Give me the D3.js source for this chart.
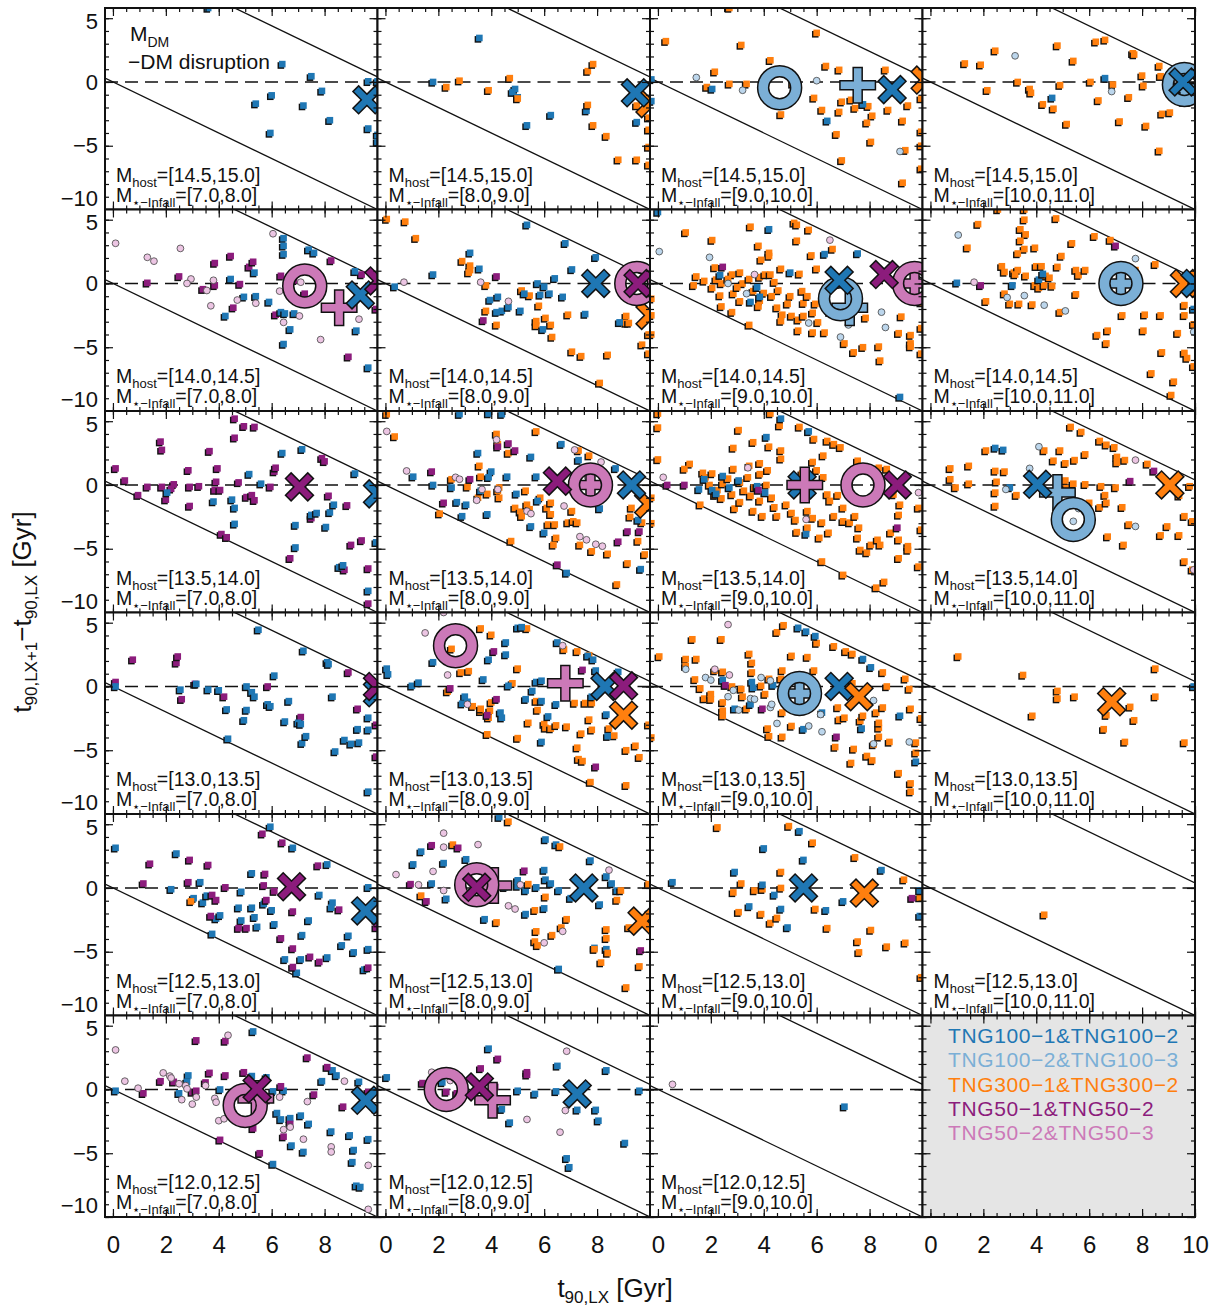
<!DOCTYPE html>
<html>
<head>
<meta charset="utf-8">
<script src="https://cdn.jsdelivr.net/npm/d3@7"></script>
<style>
  body { margin: 0; background: #fff; }
  text { font-family: "Liberation Sans", Arial, Helvetica, sans-serif; }
</style>
</head>
<body>
<svg id="chart" width="1224" height="1306"></svg>
<script>
// bins of the grid
const hostBins = ['[14.5,15.0]', '[14.0,14.5]', '[13.5,14.0]', '[13.0,13.5]', '[12.5,13.0]', '[12.0,12.5]'];
const starBins = ['[7.0,8.0]', '[8.0,9.0]', '[9.0,10.0]', '[10.0,11.0]'];
const seriesNames = ['TNG100\u22121&TNG100\u22122', 'TNG100\u22122&TNG100\u22123', 'TNG300\u22121&TNG300\u22122', 'TNG50\u22121&TNG50\u22122', 'TNG50\u22122&TNG50\u22123'];
const xTickVals = [0, 2, 4, 6, 8, 10];
const yTickVals = [-10, -5, 0, 5];

// points: [t90,LX , delta t90 , series]   series 0..4 as in seriesNames
const pts_r1c1 = [[3.6,5.8,0],[6.4,1.4,0],[7.5,0.45,0],[7.9,-0.7,0],[6.0,-1.05,0],[5.4,-1.7,0],[7.2,-1.85,0],[8.2,-3.0,0],[5.95,-4.0,0],[9.65,0.05,0],[9.65,-3.65,0],[10.0,-4.15,0],[10.0,-4.7,0],[10.0,0.05,0]];
const pts_r1c2 = [[1.8,0,0],[3.55,3.45,0],[4.9,-0.55,0],[4.8,-0.8,0],[5.0,-1.2,0],[5.35,-3.4,0],[6.25,-2.6,0],[7.6,-2.25,0],[9.5,-3.15,0],
  [2.3,-0.4,2],[2.8,0.1,2],[3.9,-0.65,2],[4.7,0.3,2],[5.0,-1.3,2],[7.65,0.85,2],[7.85,1.4,2],[7.65,-1.8,2],[7.85,-3.4,2],[8.35,-4.25,2],[8.8,-6.1,2],[9.5,-6.1,2],[9.5,-1.85,2],[9.95,-2.8,2],[9.95,-3.75,2],[9.95,-5.1,2],[9.95,-6.5,2]];
const pts_r1c3 = [[2.7,5.8,2],[0.3,3.2,2],[3.15,2.9,2],[6.0,3.85,2],[4.25,1.7,2],[2.15,0.8,2],[1.85,-0.4,2],[2.7,-0.15,2],[3.35,-0.15,2],[4.05,-0.15,2],[5.1,-0.15,2],[6.35,1.25,2],[6.85,0.95,2],[8.6,0.95,2],[5.9,-1.25,2],[6.2,-2.2,2],[6.95,-1.55,2],[7.3,-1.4,2],[6.85,-2.35,2],[7.45,-2.05,2],[7.95,-1.9,2],[8.1,-2.65,2],[7.9,-3.2,2],[8.7,-2.2,2],[9.25,-3.05,2],[9.45,-1.85,2],[6.75,-4.1,2],[8.05,-4.7,2],[6.95,-6.15,2],[9.35,-5.35,2],[9.25,-7.9,2],[4.65,-2.55,2],[9.95,-3.9,2],[9.95,-1.3,2],[9.95,-5.0,2],[9.95,-6.8,2],
  [2.05,-0.55,0],[6.4,-3.05,0],[7.75,-1.75,0],[-0.25,0.2,0],[-0.25,-1.5,0],
  [1.45,0.35,1],[3.2,-0.65,1],[6.0,0.1,1],[9.15,-5.45,1]];
const pts_r1c4 = [[1.3,1.45,2],[1.9,1.35,2],[2.45,2.45,2],[4.8,2.85,2],[5.4,1.65,2],[6.25,3.15,2],[6.6,3.3,2],[7.65,2.25,2],[7.7,2.15,2],[8.65,1.25,2],[8.0,0.5,2],[8.05,-0.3,2],[8.7,0.45,2],[3.3,0,2],[2.15,-0.65,2],[3.75,-0.55,2],[3.8,-0.85,2],[4.25,-1.75,2],[4.65,-2.1,2],[4.9,-0.25,2],[6.05,0,2],[6.9,-0.2,2],[7.5,-1.2,2],[6.35,-1.45,2],[5.15,-3.3,2],[7.15,-3.1,2],[8.15,-3.45,2],[8.75,-2.5,2],[9.05,-2.4,2],[8.65,-5.4,2],
  [6.6,0.3,0],[4.6,-1.25,0],[3.2,2.05,1],[6.85,-0.75,1]];

const pts_r2c1 = [[1.3,0.05,3],[2.5,0.55,3],[3.85,1.6,3],[4.45,2.15,3],[5.15,1.3,3],[5.3,1.7,3],[3.4,-0.45,3],[3.85,-0.15,3],[4.8,-0.05,3],[4.55,-1.9,3],[6.15,-2.45,3],[6.85,0.25,3],[7.25,-0.8,3],[8.25,1.8,3],[6.35,0.6,3],[8.9,-5.75,3],[9.4,0.7,3],[9.95,-2.0,3],
  [0.1,3.15,4],[1.3,2.05,4],[1.55,1.75,4],[2.55,2.75,4],[2.95,0.35,4],[2.8,0,4],[3.55,-0.55,4],[3.8,0.25,4],[3.7,-1.75,4],[4.7,-1.3,4],[5.4,-1.55,4],[6.05,3.9,4],[6.45,-3.05,4],[7.05,-2.55,4],[7.85,-4.4,4],[9.3,-2.8,4],[6.3,-0.6,4],[7.1,0.1,4],
  [6.45,3.55,0],[6.45,2.95,0],[6.45,2.3,0],[7.4,2.65,0],[7.6,2.4,0],[5.35,0.85,0],[4.45,0.35,0],[4.95,-1.05,0],[5.4,-1.0,0],[5.9,-1.45,0],[4.25,-2.55,0],[6.35,-2.25,0],[6.5,-2.35,0],[6.85,-2.35,0],[6.7,-3.6,0],[6.45,-4.75,0],[9.2,-3.7,0],[9.65,-6.6,0],[9.15,0.95,0]];
const pts_r2c2 = [[0.05,5.05,2],[0.75,4.85,2],[1.15,3.55,2],[2.9,1.75,2],[3.2,1.4,2],[3.2,1.05,2],[3.15,0.85,2],[3.8,-0.15,2],[5.15,-0.55,2],[5.45,-0.95,2],[5.8,-1.75,2],[3.8,-2.15,2],[4.2,-3.25,2],[5.7,-2.95,2],[5.7,-3.3,2],[6.05,-2.7,2],[6.25,-3.25,2],[6.3,-4.2,2],[6.9,-2.45,2],[7.05,-5.35,2],[7.4,-5.7,2],[8.4,-5.6,2],[8.1,-7.8,2],[9.1,-2.55,2],[9.1,-3.1,2],[9.2,-3.1,2],[9.7,-4.8,2],[9.95,-4.0,2],[9.95,-5.5,2],
  [0.35,-0.25,0],[1.8,0.7,0],[3.2,2.4,0],[3.55,1.15,0],[3.95,-1.3,0],[4.25,-1.05,0],[4.4,-2.15,0],[4.2,-2.25,0],[4.65,-1.85,0],[5.1,-2.15,0],[5.25,-0.8,0],[5.75,0,0],[5.85,-0.9,0],[6.0,-0.25,0],[6.2,-0.8,0],[6.4,0.4,0],[6.7,-1.05,0],[5.35,4.6,0],[6.8,3.15,0],[7.05,1.1,0],[7.55,-2.4,0],[7.95,2.05,0],[5.95,-3.6,0],[8.85,-3.05,0],
  [4.2,0.55,3],[3.7,-2.9,3],[0.7,0.1,4],[3.6,0.1,4],[4.65,-1.4,4]];
const pts_r2c3 = [[1.05,4.0,2],[2.05,3.4,2],[3.5,4.45,2],[3.8,2.95,2],[5.15,4.75,2],[5.25,4.6,2],[5.7,4.2,2],[5.25,3.35,2],[6.6,2.7,2],[4.2,2.4,2],[4.2,2.15,2],[5.8,2.2,2],[3.9,1.85,2],[4.65,1.15,2],[6.0,1.15,2],[5.35,0.75,2],[2.15,1.25,2],[1.45,0.55,2],[1.35,-0.15,2],[1.75,0.2,2],[2.05,-0.35,2],[2.4,0,2],[2.8,0.7,2],[3.1,0.85,2],[3.2,0,2],[3.45,0.35,2],[3.85,0.5,2],[4.05,0.7,2],[4.25,0.7,2],[4.55,-0.55,2],[5.0,-1.0,2],[4.9,-1.6,2],[5.5,-1.55,2],[4.5,-1.9,2],[4.7,-2.45,2],[5.05,-2.55,2],[5.3,-2.85,2],[5.5,-2.55,2],[5.85,-2.3,2],[5.45,-0.6,2],[5.65,-1.0,2],[5.95,-1.6,2],[6.05,-3.05,2],[5.85,-3.85,2],[6.3,-3.85,2],[6.5,-2.25,2],[5.3,-3.7,2],[4.65,-2.95,2],[2.4,-1.8,2],[2.8,-2.25,2],[3.45,-3.25,2],[3.1,-1.4,2],[3.85,-1.35,2],[3.8,-1.8,2],[2.35,-0.95,2],[2.85,-0.8,2],[4.0,-0.75,2],[4.3,-1.0,2],[7.05,-4.7,2],[7.4,-5.4,2],[7.75,-5.0,2],[8.35,-4.95,2],[8.4,-6.05,2],[9.1,-3.9,2],[9.55,-4.05,2],[9.55,-4.7,2],[9.2,-2.6,2],[9.55,-4.95,2],[7.85,-2.7,2],[7.3,-2.7,2],[9.95,-3.5,2],[9.95,-1.5,2],[9.95,-5.5,2],[-0.25,-1.2,2],[-0.25,-2.5,2],[-0.25,-4.0,2],[2.65,0.35,2],[3.0,-0.3,2],[3.6,-0.6,2],[4.4,0.1,2],[2.2,0.3,2],
  [0.0,5.6,0],[4.2,4.25,0],[6.3,2.3,0],[7.55,2.35,0],[2.35,0.65,0],[5.0,0.85,0],[3.75,-0.3,0],[3.85,-1.05,0],[3.5,-1.45,0],[9.15,-8.9,0],
  [0.05,2.5,1],[1.95,2.05,1],[2.65,0,1],[3.35,-0.8,1],[5.7,-3.1,1],[6.9,-4.2,1],[7.2,-3.25,1],[8.6,-3.45,1],[8.45,-2.25,1],
  [2.45,1.3,3],[6.5,3.4,4],[3.65,0.7,4]];
const pts_r2c4 = [[1.8,4.65,2],[1.4,2.8,2],[2.55,5.8,2],[3.55,5.0,2],[3.55,5.8,2],[3.4,4.25,2],[3.6,3.85,2],[3.4,3.35,2],[3.55,2.7,2],[3.95,2.8,2],[3.3,2.35,2],[4.75,5.1,2],[5.35,3.15,2],[6.2,3.7,2],[4.95,2.15,2],[4.8,1.3,2],[2.7,1.35,2],[2.8,0.9,2],[3.15,0.85,2],[3.3,1.05,2],[3.2,0.7,2],[3.6,0.6,2],[4.0,1.35,2],[4.2,1.35,2],[4.35,0.6,2],[4.5,0.45,2],[3.95,-0.15,2],[4.1,-0.35,2],[4.3,-0.15,2],[5.5,1.05,2],[5.6,0.65,2],[5.85,1.05,2],[5.5,-0.85,2],[2.8,-0.8,2],[3.0,-1.6,2],[3.35,-1.6,2],[3.85,-1.65,2],[4.9,-2.25,2],[2.1,-1.4,2],[4.6,-0.2,2],[8.5,1.5,2],[7.75,1.05,2],[6.8,3.4,2],[7.25,-2.5,2],[8.1,-2.45,2],[8.7,-2.5,2],[8.05,-3.7,2],[6.7,-3.7,2],[6.3,-4.05,2],[9.35,-3.9,2],[9.6,-1.7,2],[9.6,-2.5,2],[9.6,-5.45,2],[9.7,-5.85,2],[9.2,-7.7,2],[9.1,-8.75,2],[8.35,-7.05,2],[8.75,-5.4,2],[6.65,-4.7,2],[9.95,-3.2,2],[9.95,-6.5,2],
  [1.0,0.05,0],[3.1,-0.15,0],[4.1,0.3,0],[4.25,0.75,0],[9.95,-2.0,0],
  [1.9,-0.15,3],[7.0,2.95,3],
  [1.05,3.8,1],[2.9,-1.1,1],[3.55,-0.95,1],[4.3,-1.7,1],[5.1,-2.15,1],[7.75,1.95,1],[9.95,-3.8,1],
  [1.65,0.1,4]];

const pts_r3c1 = [[0.1,1.3,3],[0.45,0.35,3],[0.95,-0.8,3],[1.3,-0.15,3],[1.8,3.4,3],[1.85,2.75,3],[1.85,-0.15,3],[2.0,-1.15,3],[2.3,0.05,3],[2.2,-0.3,3],[2.85,1.15,3],[2.9,-0.15,3],[2.9,-1.65,3],[3.25,-0.1,3],[3.65,2.65,3],[3.95,1.3,3],[3.9,0.25,3],[3.85,-0.4,3],[4.05,-0.4,3],[4.6,5.2,3],[4.95,4.6,3],[5.35,4.55,3],[4.6,3.7,3],[4.75,0.2,3],[5.05,-0.95,3],[5.25,-0.8,3],[5.35,-1.2,3],[4.1,-3.85,3],[4.3,-4.1,3],[6.1,1.05,3],[6.15,1.35,3],[5.95,-0.15,3],[7.9,2.1,3],[8.0,1.85,3],[8.15,-0.85,3],[8.85,-1.6,3],[9.0,-4.7,3],[9.4,-4.35,3],[8.75,-6.65,3],[9.65,-6.55,3],[9.65,-9.3,3],[7.5,-2.6,3],[6.7,-5.75,3],
  [6.4,2.5,0],[7.15,2.8,0],[5.15,0.85,0],[5.6,0.1,0],[4.5,-1.15,0],[4.6,-1.8,0],[3.8,-1.3,0],[4.6,-3.05,0],[2.05,-0.6,0],[6.9,-3.15,0],[6.9,-4.9,0],[7.5,-2.35,0],[7.7,-2.2,0],[8.05,-3.3,0],[8.2,-2.15,0],[8.35,-1.55,0],[9.15,0.9,0],[8.55,-6.45,0],[8.7,-6.3,0],[9.65,-8.3,0],[9.95,-4.5,0]];
const pts_r3c2 = [[0.05,5.55,2],[0.35,3.8,2],[4.2,4.0,2],[5.7,4.2,2],[4.25,3.2,2],[4.65,2.5,2],[3.55,1.5,2],[2.5,0.45,2],[3.1,-0.15,2],[3.6,0.65,2],[4.25,-0.45,2],[4.3,-1.0,2],[3.85,-0.7,2],[4.3,-0.2,2],[4.9,-1.8,2],[5.1,-2.1,2],[5.15,-2.45,2],[5.35,-1.55,2],[5.45,-1.9,2],[6.1,-1.8,2],[6.25,-1.4,2],[6.25,-2.3,2],[6.15,-3.1,2],[6.4,-3.1,2],[6.45,-4.15,2],[6.35,-4.7,2],[6.9,-2.95,2],[7.1,-2.85,2],[7.25,-2.95,2],[7.3,2.7,2],[7.7,2.3,2],[7.35,-4.7,2],[7.8,-5.2,2],[8.4,-5.4,2],[8.75,-7.8,2],[9.15,-6.15,2],[9.25,-2.5,2],[9.3,-1.8,2],[9.55,-4.4,2],[9.8,-5.45,2],[9.7,-2.95,2],[4.75,-4.4,2],[2.05,-2.25,2],[3.5,-1.0,2],[7.05,-2.05,2],[5.3,-0.45,2],[5.85,-1.0,2],
  [2.8,5.55,0],[3.9,5.6,0],[4.4,5.55,0],[3.5,2.5,0],[5.5,2.2,0],[1.05,0.65,0],[1.8,0,0],[2.5,-0.2,0],[2.7,-1.35,0],[2.9,-2.45,0],[3.05,-1.55,0],[3.85,-2.3,0],[4.0,1.05,0],[3.9,0.6,0],[3.6,-0.45,0],[4.6,0.65,0],[4.95,-0.7,0],[5.7,0.65,0],[5.75,-1.25,0],[5.5,-3.25,0],[6.0,-3.75,0],[6.65,3.2,0],[7.3,1.95,0],[8.7,1.3,0],[8.1,-1.85,0],[6.85,-6.9,0],[9.55,-2.75,0],[9.65,-6.6,0],
  [1.75,1.05,3],[2.2,-1.4,3],[3.2,0.45,3],[4.65,3.25,3],[4.25,3.0,3],[4.9,2.7,3],[6.5,-6.25,3],[8.8,-4.45,3],[9.15,-3.65,3],[9.6,-3.65,3],
  [0.05,4.2,4],[0.8,1.1,4],[2.65,0.6,4],[2.8,0.45,4],[4.2,3.55,4],[3.65,-0.35,4],[3.45,-1.2,4],[4.25,-0.35,4],[5.35,-2.05,4],[5.5,-2.25,4],[6.75,-1.65,4],[7.15,2.75,4],[7.65,0.6,4],[7.35,-4.05,4],[7.6,-4.3,4],[7.95,-4.65,4],[8.2,-4.8,4],[8.15,1.8,4]];
const pts_r3c3 = [[0.0,5.6,2],[0.0,4.5,2],[0.0,2.0,2],[1.2,1.65,2],[1.0,1.25,2],[1.6,-1.55,2],[1.7,0.95,2],[1.8,0.6,2],[1.95,0,2],[2.05,0.9,2],[2.25,-0.4,2],[2.15,-0.8,2],[2.4,-1.05,2],[2.45,0.1,2],[2.65,0.5,2],[2.85,1.25,2],[2.8,-0.75,2],[2.9,-1.85,2],[3.1,0.2,2],[3.1,-1.35,2],[3.25,-0.45,2],[3.4,0.6,2],[3.45,1.5,2],[3.5,-0.85,2],[3.6,-2.05,2],[3.65,-0.2,2],[3.85,0.85,2],[3.85,1.7,2],[3.85,-1.25,2],[3.95,-2.45,2],[4.1,0,2],[4.15,1.15,2],[4.25,5.6,2],[4.3,-1.0,2],[4.4,-1.75,2],[4.5,-2.45,2],[4.65,2.7,2],[4.65,2.05,2],[4.6,4.65,2],[3.05,4.3,2],[3.6,3.35,2],[4.2,3.0,2],[2.85,2.9,2],[4.85,-1.55,2],[5.05,-2.2,2],[5.2,-2.75,2],[5.25,-3.7,2],[5.35,4.55,2],[5.9,3.6,2],[6.4,3.45,2],[6.65,3.2,2],[6.9,2.95,2],[6.25,2.3,2],[5.85,1.8,2],[6.0,1.15,2],[5.45,0.9,2],[6.25,0.6,2],[6.4,-0.75,2],[6.5,-1.25,2],[6.8,-0.8,2],[7.0,-1.8,2],[6.65,-2.45,2],[6.2,-2.95,2],[5.85,-2.6,2],[5.65,-2.05,2],[5.65,-3.35,2],[6.1,-4.15,2],[6.45,-3.75,2],[7.0,-2.85,2],[7.25,-2.95,2],[7.45,-2.45,2],[7.6,-3.35,2],[7.55,-4.15,2],[7.65,-5.1,2],[7.9,-5.3,2],[8.05,-4.7,2],[8.3,-4.3,2],[8.4,-4.7,2],[8.8,-3.75,2],[9.1,-4.3,2],[9.45,-4.8,2],[9.45,-5.1,2],[9.1,-5.75,2],[9.1,-2.35,2],[9.15,-1.55,2],[8.9,-0.75,2],[8.35,1.35,2],[7.55,1.9,2],[8.65,1.25,2],[6.2,-6.0,2],[7.0,-7.05,2],[8.25,-8.05,2],[8.55,-7.6,2],[9.85,-6.4,2],[9.85,-1.8,2],[9.95,-3.5,2],[-0.25,-1.0,2],[-0.25,-3.0,2],
  [5.7,4.2,0],[4.65,5.2,0],[4.1,3.75,0],[1.75,0.45,0],[2.45,0.7,0],[1.55,-0.35,0],[2.05,-0.4,0],[2.2,-0.7,0],[2.7,-0.2,0],[3.05,0.35,0],[4.05,-0.6,0],[3.75,-0.1,0],[5.6,-3.85,0],
  [0.2,0.6,4],[3.4,1.35,4],[5.6,-2.7,4],[9.85,-0.6,4],
  [0.35,0,3],[1.0,0,3],[3.8,-0.4,3],[9.05,-3.35,3]];
const pts_r3c4 = [[2.1,2.7,2],[5.3,4.55,2],[5.7,4.15,2],[6.4,3.45,2],[6.65,3.15,2],[6.95,2.95,2],[4.9,2.7,2],[4.3,2.7,2],[5.85,2.4,2],[5.45,1.95,2],[4.65,1.9,2],[5.1,1.7,2],[7.05,2.2,2],[7.05,1.75,2],[7.35,1.95,2],[8.2,1.65,2],[0.75,1.3,2],[1.45,1.5,2],[0.75,0.45,2],[0.95,-0.2,2],[1.45,0.1,2],[2.45,1.1,2],[2.8,1.05,2],[2.5,0.25,2],[2.45,-0.6,2],[3.25,-0.8,2],[4.9,0.1,2],[5.1,0.35,2],[5.15,-0.25,2],[5.4,0.1,2],[5.85,0.05,2],[6.45,-0.1,2],[6.6,-0.8,2],[7.0,-0.2,2],[6.0,-1.4,2],[6.4,-1.75,2],[7.25,-1.75,2],[6.65,-1.4,2],[2.45,-1.65,2],[4.8,-1.85,2],[7.5,-3.1,2],[6.7,-4.05,2],[7.3,-4.7,2],[8.7,-3.95,2],[8.95,-3.25,2],[9.4,-3.95,2],[9.6,-2.45,2],[9.6,-6.0,2],[9.9,-2.85,2],[9.4,-0.85,2],[9.9,-6.65,2],[9.8,-0.1,2],
  [2.45,2.9,0],[2.75,2.75,0],[3.0,-0.2,0],
  [8.45,1.1,3],[7.55,0.3,3],
  [4.1,3.0,1],[3.75,1.3,1],[2.85,-0.35,1],[5.4,-2.85,1],[5.6,-1.85,1],[7.75,-3.25,1],
  [7.75,1.95,4],[9.95,-6.65,4]];

const pts_r4c1 = [[0.1,0.35,3],[0.75,2.1,3],[2.4,1.85,3],[2.45,2.35,3],[2.6,-1.0,3],[3.1,0.2,3],[4.2,-0.8,3],[5.85,0,3],[7.1,-2.4,3],[8.9,1.1,3],[9.25,-1.75,3],[9.95,-3.0,3],[9.95,-5.5,3],
  [0.1,0,0],[2.55,-0.25,0],[3.15,0.2,0],[3.6,-0.25,0],[4.0,-0.3,0],[4.3,-1.8,0],[4.35,-4.1,0],[4.95,-2.65,0],[5.05,-1.85,0],[5.05,0,0],[5.25,-0.45,0],[5.35,-0.8,0],[5.85,-1.4,0],[5.95,-1.55,0],[5.5,4.45,0],[6.1,0.85,0],[6.5,-2.75,0],[6.65,-1.15,0],[7.0,-2.85,0],[7.1,-2.95,0],[7.15,-4.45,0],[7.3,-3.9,0],[7.2,2.8,0],[8.1,1.9,0],[8.15,1.75,0],[8.3,-0.8,0],[8.4,-5.1,0],[8.75,-4.2,0],[9.0,-4.5,0],[9.3,-4.4,0],[9.25,-3.35,0],[9.65,-3.4,0],[9.65,-2.45,0],[9.65,-8.25,0]];
const pts_r4c2 = [[2.5,2.95,2],[2.85,1.1,2],[3.15,1.2,2],[3.6,4.55,2],[4.0,4.05,2],[5.35,4.55,2],[5.0,1.4,2],[4.8,0.25,2],[2.35,-0.4,2],[3.3,-1.55,2],[3.6,-1.95,2],[3.6,-1.75,2],[3.95,-1.9,2],[4.0,-1.25,2],[3.9,-2.45,2],[3.85,-3.75,2],[5.0,-4.05,2],[5.4,-2.85,2],[5.75,-1.85,2],[5.7,-1.15,2],[6.0,-2.95,2],[6.05,-3.25,2],[6.25,-3.3,2],[6.45,-3.05,2],[6.75,2.9,2],[6.85,-3.15,2],[7.15,-1.3,2],[7.55,-1.3,2],[7.25,2.75,2],[7.7,2.45,2],[7.8,-1.3,2],[7.7,-2.6,2],[7.4,-3.7,2],[7.8,-3.4,2],[8.45,-3.3,2],[8.65,-3.85,2],[7.25,-4.8,2],[7.3,-5.7,2],[7.45,-5.85,2],[7.75,-7.5,2],[9.1,-5.0,2],[9.45,-4.65,2],[9.6,-5.55,2],[9.1,-7.75,2],[9.95,-3.0,2],
  [0.05,1.4,0],[0.1,0.95,0],[1.0,0.05,0],[1.25,0.3,0],[1.8,1.9,0],[3.9,2.1,0],[4.55,3.45,0],[4.55,2.5,0],[5.0,4.6,0],[5.15,4.65,0],[3.7,0.55,0],[4.65,0.05,0],[5.7,0.35,0],[5.9,0.45,0],[5.55,-0.35,0],[5.9,-1.15,0],[3.0,-0.8,0],[3.1,-1.2,0],[2.9,-1.35,0],[4.35,-2.05,0],[4.4,-2.45,0],[6.15,-2.35,0],[6.45,-1.4,0],[6.5,3.45,0],[7.65,2.4,0],[7.85,2.1,0],[7.95,1.25,0],[8.8,1.15,0],[8.35,-2.2,0],[8.4,-3.9,0],[5.9,-4.35,0],[5.3,-1.0,0],[7.8,-0.8,0],
  [4.1,2.75,3],[4.2,-1.0,3],[3.85,-2.25,3],[7.45,1.3,3],[7.95,-6.3,3],[2.45,-0.15,3],
  [1.5,4.2,4],[2.2,5.8,4],[2.35,0.9,4],[3.1,-1.4,4],[6.7,3.2,4]];
const pts_r4c3 = [[0.05,2.35,2],[1.05,2.15,2],[1.45,2.15,2],[1.3,3.7,2],[2.4,3.7,2],[1.05,1.6,2],[2.15,1.25,2],[2.45,1.15,2],[1.4,0.55,2],[1.6,-0.15,2],[1.75,-0.95,2],[2.0,-0.6,2],[2.0,-1.0,2],[2.45,-1.25,2],[2.45,-1.9,2],[2.45,-2.3,2],[2.8,0,2],[3.15,-0.2,2],[3.2,-0.8,2],[3.35,-1.75,2],[3.45,2.55,2],[3.55,1.85,2],[3.55,1.1,2],[3.9,0.05,2],[4.05,-0.6,2],[4.2,0.6,2],[4.5,4.25,2],[4.75,4.8,2],[4.7,1.25,2],[4.65,0.6,2],[4.7,-2.05,2],[4.15,-3.3,2],[4.2,-3.9,2],[4.7,-3.95,2],[5.05,2.4,2],[5.05,-3.1,2],[5.65,2.3,2],[5.9,1.25,2],[6.0,3.4,2],[6.65,3.15,2],[7.1,2.75,2],[7.35,2.55,2],[6.85,-2.6,2],[7.05,-2.45,2],[6.7,-4.75,2],[6.8,-1.65,2],[7.4,-4.9,2],[7.3,-6.0,2],[7.9,-5.45,2],[8.1,-5.8,2],[8.15,-4.55,2],[8.35,-3.95,2],[8.35,-3.25,2],[8.35,-2.85,2],[8.75,-4.35,2],[8.25,-2.05,2],[8.5,-1.65,2],[8.65,0,2],[8.5,1.1,2],[9.35,0.6,2],[9.5,-0.2,2],[9.55,-1.75,2],[9.75,-4.4,2],[9.75,-5.2,2],[9.55,-7.6,2],[9.55,-8.25,2],[9.1,-6.8,2],[7.65,-2.7,2],[7.75,-2.3,2],[7.35,0.25,2],[9.95,-2.5,2],[-0.25,-4.0,2],
  [2.45,0.5,0],[3.55,0.35,0],[3.6,-0.1,0],[4.35,0.1,0],[2.9,-1.75,0],[3.5,-1.4,0],[5.3,4.6,0],[5.6,4.3,0],[5.95,3.95,0],[7.75,2.15,0],[8.05,1.5,0],[6.2,-2.05,0],[5.5,-3.35,0],[7.7,-3.3,0],[9.15,-2.3,0],[9.75,-5.9,0],
  [1.05,1.35,1],[1.8,0.7,1],[2.0,0.5,1],[2.85,-0.3,1],[2.65,-0.8,1],[3.05,-1.85,1],[3.5,-0.95,1],[3.9,0.7,1],[4.25,0.45,1],[4.25,-1.65,1],[4.3,-1.4,1],[4.5,-2.9,1],[6.15,-2.2,1],[5.7,-3.1,1],[6.2,-3.55,1],[8.15,-1.1,1],[8.15,-4.5,1],[9.5,-4.35,1],[3.65,-1.0,1],
  [2.65,4.85,4],[2.15,1.35,4],[2.7,0.9,4],
  [2.55,0.1,3],[3.95,-1.75,3],[6.75,-3.95,3]];
const pts_r4c4 = [[1.05,2.35,2],[3.5,0.9,2],[4.8,-0.35,2],[4.8,-0.95,2],[5.45,-0.8,2],[3.85,-2.3,2],[6.65,-2.25,2],[6.55,-3.35,2],[7.55,-1.6,2],[7.7,-2.65,2],[7.35,-4.35,2],[8.5,1.4,2],[8.5,-0.8,2],[9.6,-4.4,2],[9.95,0,0]];

const pts_r5c1 = [[0.1,3.15,0],[2.2,-0.1,0],[2.4,2.7,0],[3.05,-0.8,0],[3.3,0.45,0],[3.4,-1.15,0],[3.55,-0.6,0],[3.75,-3.6,0],[3.9,-2.4,0],[4.05,-2.15,0],[4.85,-0.3,0],[4.75,-1.55,0],[4.85,-2.55,0],[5.25,1.15,0],[5.25,-1.55,0],[5.35,-2.3,0],[5.45,-3.05,0],[5.7,-1.25,0],[6.0,-1.75,0],[6.1,-2.85,0],[5.95,4.8,0],[6.8,3.15,0],[7.15,-3.7,0],[6.95,-6.65,0],[6.5,-5.6,0],[7.1,-5.6,0],[7.4,-2.55,0],[7.8,-0.55,0],[8.1,1.85,0],[8.1,-5.45,0],[8.3,-1.15,0],[8.25,-1.55,0],[8.65,-4.5,0],[8.9,-3.75,0],[9.1,-5.05,0],[9.5,-6.4,0],[9.65,-4.8,0],[9.65,0.05,0],[9.95,-2.5,0],
  [1.15,0.35,3],[1.4,1.9,3],[2.9,2.2,3],[2.85,0.45,3],[3.6,1.8,3],[3.75,-0.55,3],[3.9,-0.95,3],[3.7,-2.2,3],[4.25,0.05,3],[4.75,-3.15,3],[5.05,-3.15,3],[5.65,4.25,3],[6.4,3.55,3],[5.75,1.1,3],[5.7,0.2,3],[5.8,-0.95,3],[6.1,-0.25,3],[6.35,-3.95,3],[6.8,-1.85,3],[6.8,-4.75,3],[6.8,-6.2,3],[7.45,-5.4,3],[7.8,-5.8,3],[7.75,1.75,3],[8.55,-1.7,3],[9.65,-6.25,3],[9.95,-3.1,3],
  [2.95,-1.05,2]];
const pts_r5c2 = [[4.3,5.55,0],[6.05,3.8,0],[6.45,3.4,0],[7.75,2.15,0],[1.05,1.85,0],[1.35,2.85,0],[1.75,0.35,0],[2.2,1.95,0],[2.3,-0.85,0],[3.05,2.25,0],[3.55,0,0],[4.5,0.05,0],[5.0,0.6,0],[5.0,0.15,0],[5.3,-0.2,0],[5.7,0.05,0],[6.0,1.4,0],[6.05,0.65,0],[6.25,0.35,0],[6.55,-0.2,0],[7.0,-0.8,0],[5.3,-2.05,0],[6.0,-1.6,0],[3.75,-2.45,0],[8.35,0.9,0],[8.55,0.35,0],[8.1,-1.3,0],[8.75,-0.2,0],[7.9,-4.7,0],[8.35,-4.8,0],[6.55,-6.35,0],[9.95,-2.0,0],
  [4.65,5.2,2],[2.55,3.4,2],[6.6,3.25,2],[1.35,-0.6,2],[5.4,0.3,2],[6.05,-0.7,2],[5.65,-1.75,2],[5.7,-3.4,2],[5.65,-4.2,2],[5.75,-4.5,2],[6.3,-3.7,2],[6.65,-3.1,2],[6.85,-2.45,2],[4.2,-2.7,2],[7.9,-4.8,2],[8.35,-3.95,2],[8.35,-3.25,2],[8.4,-5.1,2],[8.15,-5.85,2],[8.9,-0.2,2],[9.2,-3.1,2],[9.1,-7.8,2],[9.6,-6.15,2],[8.75,-0.95,2],[9.95,0.3,2],
  [1.75,3.35,3],[2.75,3.15,3],[0.95,0.3,3],[1.55,-1.05,3],[5.25,1.35,3],[9.65,-4.9,3],
  [0.4,1.05,4],[1.25,0.25,4],[1.8,1.3,4],[2.2,4.3,4],[2.2,3.2,4],[2.2,-0.2,4],[3.5,3.4,4],[4.65,-1.4,4],[4.9,-1.65,4],[5.1,0.25,4],[6.0,-4.3,4],[6.7,-3.4,4],[8.45,1.4,4]];
const pts_r5c3 = [[2.25,4.75,2],[4.95,4.85,2],[5.85,3.55,2],[7.45,2.4,2],[4.65,1.25,2],[3.15,0.35,2],[2.85,-0.35,2],[3.65,-0.2,2],[3.95,-0.1,2],[4.65,0,2],[3.05,-1.9,2],[3.9,-2.05,2],[4.25,-2.75,2],[4.5,-2.35,2],[5.95,-1.65,2],[6.4,-3.15,2],[7.55,-4.2,2],[8.05,-3.3,2],[7.6,-5.05,2],[8.65,-4.6,2],[9.35,-4.3,2],[9.3,0.65,2],[9.9,-0.75,2],[9.95,-7.0,2],
  [0.55,0.45,0],[2.9,1.25,0],[4.0,3.1,0],[3.95,0.25,0],[4.4,-0.55,0],[5.5,2.2,0],[5.35,4.45,0],[3.45,-1.45,0],[4.65,-1.65,0],[4.9,-3.1,0],[6.35,-1.75,0],[7.0,-1.05,0],[8.45,1.4,0],[9.9,-0.2,0],[9.9,-2.2,0],
  [9.6,-0.8,3]];
const pts_r5c4 = [[4.3,-2.1,2]];

const pts_r6c1 = [[0.1,-0.1,0],[2.5,-0.3,0],[2.85,1.1,0],[2.8,0.6,0],[5.3,4.55,0],[5.25,1.05,0],[4.05,0,0],[5.8,0.95,0],[5.85,-0.8,0],[6.05,-0.15,0],[6.45,-0.1,0],[6.2,-1.85,0],[6.35,-2.35,0],[6.7,-2.25,0],[7.1,-2.05,0],[7.4,-2.7,0],[7.9,0.65,0],[8.3,1.5,0],[8.45,1.1,0],[9.3,0.6,0],[8.25,-3.3,0],[8.95,-3.6,0],[9.65,-3.9,0],[6.75,-4.4,0],[7.2,-4.9,0],[6.05,-5.85,0],[9.05,-5.7,0],[9.2,-7.55,0],[9.35,-7.65,0],[9.1,-4.75,0],[9.95,-1.5,0],
  [1.15,-0.3,3],[1.8,0.65,3],[2.3,0.6,3],[3.0,-0.2,3],[3.15,-0.1,3],[3.5,0.55,3],[3.15,3.85,3],[4.25,3.8,3],[3.65,1.3,3],[4.25,1.1,3],[4.95,1.35,3],[4.05,-3.95,3],[5.3,-3.05,3],[5.55,-5.0,3],[6.35,0.25,3],[6.45,-3.7,3],[6.7,-2.7,3],[7.35,2.5,3],[7.6,-0.4,3],[8.7,-1.35,3],[8.1,1.75,3],[9.65,-0.2,3],
  [0.1,3.1,4],[0.45,0.65,4],[0.95,0.1,4],[1.9,1.3,4],[2.15,1.05,4],[2.2,0.9,4],[2.5,0.45,4],[2.75,0.3,4],[2.8,0.05,4],[2.6,-0.8,4],[3.0,-1.15,4],[3.15,-0.6,4],[3.5,0.3,4],[3.85,-0.7,4],[3.9,-1.0,4],[4.0,-2.45,4],[4.2,-2.3,4],[4.35,4.25,4],[4.75,-0.2,4],[6.3,-0.6,4],[6.45,-3.15,4],[6.7,-2.95,4],[7.35,-0.95,4],[7.2,-3.9,4],[8.25,-4.5,4],[8.25,-4.9,4],[8.75,0.65,4],[9.65,-5.95,4],[9.65,-9.4,4]];
const pts_r6c2 = [[0.05,0.95,0],[2.15,0.55,0],[3.9,3.2,0],[4.4,-1.55,0],[4.7,-2.6,0],[5.0,-0.1,0],[5.65,-0.35,0],[6.45,-0.15,0],[6.5,1.85,0],[7.25,-1.6,0],[7.95,-1.6,0],[8.05,-2.45,0],[8.35,1.5,0],[9.05,-4.2,0],[6.85,-5.4,0],[6.95,-6.1,0],[9.6,-0.1,0],
  [1.4,0.5,3],[2.3,-0.2,3],[2.7,-0.3,3],[4.25,2.4,3],[3.6,1.65,3],[4.15,0.2,3],[5.35,1.35,3],[5.35,1.15,3],
  [1.75,1.35,4],[2.45,0.7,4],[6.85,3.0,4],[5.35,-2.35,4],[6.6,-3.35,4],[6.8,-1.65,4]];
const pts_r6c3 = [[7.05,-1.35,0],[0.55,0.4,4]];

// medians: [x, y, series, shape]  shape: x = cross, p = plus, o = circle
const med_r1c1 = [[9.6,-1.4,0,'x']];
const med_r1c2 = [[10.0,-1.7,2,'x'],[9.45,-0.85,0,'x']];
const med_r1c3 = [[4.6,-0.45,1,'o'],[7.55,-0.25,1,'p'],[8.85,-0.6,0,'x'],[10.1,0.15,2,'x']];
const med_r1c4 = [[9.6,-0.5,1,'p'],[9.6,-0.2,1,'o'],[9.55,0,0,'x']];
const med_r2c1 = [[8.55,-1.9,4,'p'],[7.25,-0.2,4,'o'],[9.35,-0.9,0,'x'],[10.05,0.2,3,'x']];
const med_r2c2 = [[7.95,0,0,'x'],[10.0,-2.5,2,'x'],[9.5,0,4,'o'],[9.55,0,3,'x']];
const med_r2c3 = [[7.25,-1.9,1,'p'],[6.9,-1.2,1,'o'],[6.85,0.25,0,'x'],[9.7,0,4,'p'],[9.7,0,4,'o'],[8.55,0.7,3,'x']];
const med_r2c4 = [[7.2,0,1,'p'],[7.2,0,1,'o'],[9.6,0,2,'x'],[10.0,0,0,'x']];
const med_r3c1 = [[7.05,-0.15,3,'x'],[10.0,-0.7,0,'x']];
const med_r3c2 = [[9.95,-1.5,2,'x'],[7.75,0,4,'p'],[7.75,0,4,'o'],[9.3,0,0,'x'],[6.5,0.3,3,'x']];
const med_r3c3 = [[5.45,0,0,'x'],[5.55,0,4,'p'],[7.75,0,4,'o'],[9.05,0,3,'x']];
const med_r3c4 = [[4.8,-0.6,1,'p'],[5.4,-2.7,1,'o'],[4.05,0.05,0,'x'],[9.05,0,2,'x']];
const med_r4c1 = [[10.0,-0.5,0,'x'],[10.0,0,3,'x']];
const med_r4c2 = [[2.65,3.2,4,'o'],[6.8,0.25,4,'p'],[8.3,0,0,'x'],[9.0,-2.25,2,'x'],[9.0,0.05,3,'x']];
const med_r4c3 = [[5.35,-0.55,1,'p'],[5.35,-0.55,1,'o'],[6.85,0,0,'x'],[7.6,-0.8,2,'x']];
const med_r4c4 = [[6.85,-1.2,2,'x']];
const med_r5c1 = [[6.75,0.1,3,'x'],[9.55,-1.8,0,'x']];
const med_r5c2 = [[4.1,0.2,4,'p'],[3.45,0.25,4,'o'],[3.45,0.05,3,'x'],[7.5,0,0,'x'],[9.7,-2.6,2,'x']];
const med_r5c3 = [[5.5,0,0,'x'],[7.8,-0.4,2,'x']];
const med_r5c4 = [];
const med_r6c1 = [[5.4,-0.7,4,'p'],[5.0,-1.25,4,'o'],[5.45,0.05,3,'x'],[9.55,-0.85,0,'x']];
const med_r6c2 = [[4.05,-0.85,4,'p'],[2.3,0,4,'o'],[3.55,0.2,3,'x'],[7.25,-0.35,0,'x']];
const med_r6c3 = [];

const ptsGrid = [
  [pts_r1c1, pts_r1c2, pts_r1c3, pts_r1c4],
  [pts_r2c1, pts_r2c2, pts_r2c3, pts_r2c4],
  [pts_r3c1, pts_r3c2, pts_r3c3, pts_r3c4],
  [pts_r4c1, pts_r4c2, pts_r4c3, pts_r4c4],
  [pts_r5c1, pts_r5c2, pts_r5c3, pts_r5c4],
  [pts_r6c1, pts_r6c2, pts_r6c3, null]
];
const medGrid = [
  [med_r1c1, med_r1c2, med_r1c3, med_r1c4],
  [med_r2c1, med_r2c2, med_r2c3, med_r2c4],
  [med_r3c1, med_r3c2, med_r3c3, med_r3c4],
  [med_r4c1, med_r4c2, med_r4c3, med_r4c4],
  [med_r5c1, med_r5c2, med_r5c3, med_r5c4],
  [med_r6c1, med_r6c2, med_r6c3, null]
];

// styles
const colors = ['#1f77b4', '#7bafd6', '#ff7f0e', '#8c1c7c', '#cc79b8'];
const pale = ['#1f77b4', '#bcd6ec', '#ff7f0e', '#8c1c7c', '#ecc5e3'];

const svg = d3.select('#chart');
const gridLeft = 105, gridTop = 8, pw = 272.5, ph = 201.5;

const x = d3.scaleLinear().domain([-0.3, 10]).range([0, pw]);
const y = d3.scaleLinear().domain([-10, 5.8]).range([ph, 0]);

// sub-script helper
function rich(t, parts, size, subSize, shift) {
  let down = false;
  parts.forEach(p => {
    const ts = t.append('tspan').text(p[0]);
    if (p[1]) {
      ts.attr('font-size', subSize).attr('dy', down ? 0 : shift);
      down = true;
    } else {
      ts.attr('font-size', size).attr('dy', down ? -shift : 0);
      down = false;
    }
  });
}

function drawCross(g, px, py, col) {
  const a = 15 / Math.SQRT2, b = 16.5 / Math.SQRT2;
  [[-b, -b, b, b], [-b, b, b, -b]].forEach(d => g.append('line')
    .attr('x1', px + d[0]).attr('y1', py + d[1]).attr('x2', px + d[2]).attr('y2', py + d[3])
    .attr('stroke', '#111').attr('stroke-width', 9.5));
  [[-a, -a, a, a], [-a, a, a, -a]].forEach(d => g.append('line')
    .attr('x1', px + d[0]).attr('y1', py + d[1]).attr('x2', px + d[2]).attr('y2', py + d[3])
    .attr('stroke', col).attr('stroke-width', 6.5));
}
function drawPlus(g, px, py, col) {
  const a = 17, b = 18.5;
  [[-b, 0, b, 0], [0, -b, 0, b]].forEach(d => g.append('line')
    .attr('x1', px + d[0]).attr('y1', py + d[1]).attr('x2', px + d[2]).attr('y2', py + d[3])
    .attr('stroke', '#111').attr('stroke-width', 10.5));
  [[-a, 0, a, 0], [0, -a, 0, a]].forEach(d => g.append('line')
    .attr('x1', px + d[0]).attr('y1', py + d[1]).attr('x2', px + d[2]).attr('y2', py + d[3])
    .attr('stroke', col).attr('stroke-width', 7.5));
}
function drawRing(g, px, py, col) {
  g.append('circle').attr('cx', px).attr('cy', py).attr('r', 16.5)
    .attr('fill', 'none').attr('stroke', '#111').attr('stroke-width', 12.5);
  g.append('circle').attr('cx', px).attr('cy', py).attr('r', 16.5)
    .attr('fill', 'none').attr('stroke', col).attr('stroke-width', 9.5);
}

function ticks(g) {
  const mk = (axis, vals, size, tr) => g.append('g').attr('transform', tr)
    .call(axis.tickValues(vals).tickSize(size).tickFormat(() => ''))
    .call(s => s.select('.domain').remove())
    .selectAll('line').attr('stroke', '#111').attr('stroke-width', 1.2);
  const xMinor = d3.range(0, 10.01, 0.5), yMinor = d3.range(-10, 5.01, 1);
  mk(d3.axisBottom(x), xMinor, -4, `translate(0,${ph})`);
  mk(d3.axisBottom(x), xTickVals, -8, `translate(0,${ph})`);
  mk(d3.axisTop(x), xMinor, -4, 'translate(0,0)');
  mk(d3.axisTop(x), xTickVals, -8, 'translate(0,0)');
  mk(d3.axisLeft(y), yMinor, -4, 'translate(0,0)');
  mk(d3.axisLeft(y), yTickVals, -8, 'translate(0,0)');
  mk(d3.axisRight(y), yMinor, -4, `translate(${pw},0)`);
  mk(d3.axisRight(y), yTickVals, -8, `translate(${pw},0)`);
}

for (let r = 0; r < 6; r++) {
  for (let c = 0; c < 4; c++) {
    const g = svg.append('g').attr('transform', `translate(${gridLeft + c * pw},${gridTop + r * ph})`);
    const isLegend = (r === 5 && c === 3);
    const cid = `clip${r}${c}`;
    g.append('clipPath').attr('id', cid).append('rect').attr('width', pw).attr('height', ph);
    g.append('rect').attr('width', pw).attr('height', ph).attr('fill', isLegend ? '#e5e5e5' : '#fff');

    if (!isLegend) {
      const inner = g.append('g').attr('clip-path', `url(#${cid})`);
      inner.append('line').attr('x1', x(-0.3)).attr('x2', x(10)).attr('y1', y(0)).attr('y2', y(0))
        .attr('stroke', '#111').attr('stroke-width', 1.4).attr('stroke-dasharray', '13,7');
      const diag = [0, 10.4];
      diag.forEach(k => inner.append('line')
        .attr('x1', x(-0.3)).attr('y1', y(k + 0.3)).attr('x2', x(10)).attr('y2', y(k - 10))
        .attr('stroke', '#111').attr('stroke-width', 1.3));

      const pts = ptsGrid[r][c];
      // squares first, then circles
      pts.filter(d => d[2] === 0 || d[2] === 2 || d[2] === 3).forEach(d => {
        const px = x(d[0]), py = y(d[1]);
        inner.append('rect').attr('x', px - 4.7).attr('y', py - 1.9).attr('width', 6.6).attr('height', 6.6).attr('fill', '#111');
        inner.append('rect').attr('x', px - 3.3).attr('y', py - 3.3).attr('width', 6.6).attr('height', 6.6).attr('fill', colors[d[2]]);
      });
      pts.filter(d => d[2] === 1 || d[2] === 4).forEach(d => {
        inner.append('circle').attr('cx', x(d[0])).attr('cy', y(d[1])).attr('r', 3.4)
          .attr('fill', pale[d[2]]).attr('stroke', '#444').attr('stroke-width', 0.8);
      });
      medGrid[r][c].forEach(d => {
        const px = x(d[0]), py = y(d[1]), col = colors[d[2]];
        if (d[3] === 'x') drawCross(inner, px, py, col);
        else if (d[3] === 'p') drawPlus(inner, px, py, col);
        else drawRing(inner, px, py, col);
      });

      const t1 = g.append('text').attr('x', 11).attr('y', ph - 28).attr('fill', '#111');
      rich(t1, [['M'], ['host', 1], ['=' + hostBins[r]]], 19.5, 13, 5);
      const t2 = g.append('text').attr('x', 11).attr('y', ph - 8).attr('fill', '#111');
      rich(t2, [['M'], ['\u22c6\u2212Infall', 1], ['=' + starBins[c]]], 19.5, 13, 5);
    } else {
      seriesNames.forEach((n, i) => g.append('text').attr('x', 25.5).attr('y', 27.5 + i * 24.3)
        .attr('font-size', 21).attr('letter-spacing', 0.6).attr('fill', colors[i]).text(n));
    }

    ticks(g);
    g.append('rect').attr('width', pw).attr('height', ph).attr('fill', 'none')
      .attr('stroke', '#111').attr('stroke-width', 2);

    if (c === 0) {
      const ay = g.append('g').call(d3.axisLeft(y).tickValues(yTickVals).tickSize(0).tickPadding(7));
      ay.select('.domain').remove();
      ay.selectAll('text').attr('font-size', 22).attr('fill', '#111')
        .attr('font-family', '"Liberation Sans", Arial, sans-serif')
        .attr('dy', d => d === -10 ? '-0.2em' : (d === 5 ? '0.45em' : '0.32em'));
    }
    if (r === 5) {
      const xv = c === 3 ? xTickVals : xTickVals.slice(0, 5);
      const ax = g.append('g').attr('transform', `translate(0,${ph})`)
        .call(d3.axisBottom(x).tickValues(xv).tickSize(0).tickPadding(19));
      ax.select('.domain').remove();
      ax.selectAll('text').attr('font-size', 24).attr('fill', '#111')
        .attr('font-family', '"Liberation Sans", Arial, sans-serif');
    }
  }
}

// top-left note
const n1 = svg.append('text').attr('x', 130).attr('y', 41).attr('fill', '#111');
rich(n1, [['M'], ['DM', 1]], 21, 14, 6);
svg.append('text').attr('x', 128).attr('y', 69).attr('font-size', 21).attr('fill', '#111').text('\u2212DM disruption');

// axis titles
const xt = svg.append('text').attr('x', 615).attr('y', 1297).attr('text-anchor', 'middle').attr('fill', '#111');
rich(xt, [['t'], ['90,LX', 1], [' [Gyr]']], 26, 17, 6);
const yt = svg.append('text').attr('transform', 'translate(31,612) rotate(-90)').attr('text-anchor', 'middle').attr('fill', '#111');
rich(yt, [['t'], ['90,LX+1', 1], ['\u2212t'], ['90,LX', 1], [' [Gyr]']], 26, 17, 6);
</script>
</body>
</html>
